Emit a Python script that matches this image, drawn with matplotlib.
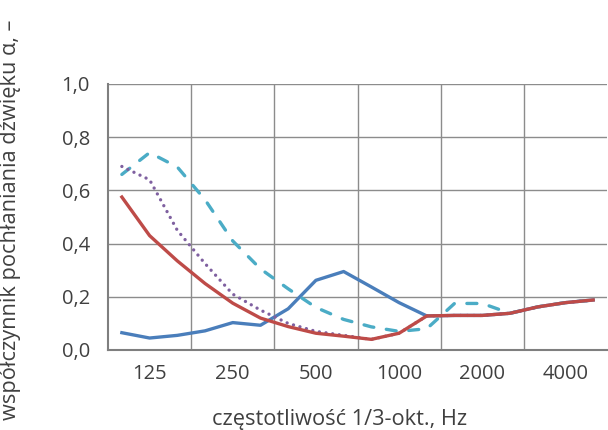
import numpy as np
import matplotlib
matplotlib.use('Agg')
import matplotlib.pyplot as plt

plt.rcParams['font.family'] = ['Open Sans', 'DejaVu Sans']

# pasma tercjowe 100 Hz - 5000 Hz
pasma = [100, 125, 160, 200, 250, 315, 400, 500, 630, 800, 1000, 1250,
         1600, 2000, 2500, 3150, 4000, 5000]
opisy_x = ['125', '250', '500', '1000', '2000', '4000']
opisy_y = ['0,0', '0,2', '0,4', '0,6', '0,8', '1,0']

alfa_niebieska = [0.065, 0.045, 0.055, 0.072, 0.103, 0.093, 0.155, 0.262, 0.295,
                  0.237, 0.178, 0.128, 0.130, 0.130, 0.138, 0.162, 0.178, 0.188]
alfa_turkusowa = [0.660, 0.742, 0.688, 0.565, 0.410, 0.305, 0.230, 0.160, 0.115,
                  0.087, 0.070, 0.080, 0.175, 0.175, 0.138, 0.162, 0.178, 0.188]
alfa_fioletowa = [0.690, 0.640, 0.450, 0.325, 0.210, 0.150, 0.100, 0.070, 0.055,
                  0.040, 0.063, 0.128, 0.130, 0.130, 0.138, 0.162, 0.178, 0.188]
alfa_czerwona = [0.575, 0.430, 0.335, 0.250, 0.176, 0.120, 0.088, 0.063, 0.052,
                 0.040, 0.063, 0.128, 0.130, 0.130, 0.138, 0.162, 0.178, 0.188]

kolor_tekstu = '#404040'

fig = plt.figure(figsize=(6.08, 4.30), dpi=100)
ax = fig.add_axes([108 / 608, 80 / 430, 499 / 608, 266 / 430])

x = np.arange(len(pasma))
ax.plot(x, alfa_niebieska, color='#4A7EBB', lw=2.4, solid_joinstyle='round', zorder=3)
ax.plot(x, alfa_turkusowa, color='#4BACC6', lw=2.4, dashes=(3.0, 3.8),
        dash_capstyle='round', zorder=4)
ax.plot(x, alfa_fioletowa, color='#7F60A0', lw=2.4, dashes=(0.01, 2.0),
        dash_capstyle='round', zorder=4)
ax.plot(x, alfa_czerwona, color='#BE4B48', lw=2.4, solid_joinstyle='round', zorder=5)

ax.set_xlim(-0.5, len(pasma) - 0.5)
ax.set_ylim(0, 1.0)

# linie siatki na granicach oktaw
for g in np.arange(2.5, len(pasma) - 1, 3):
    ax.axvline(g, color='#8C8C8C', lw=1.0, zorder=1)
ax.set_yticks(np.linspace(0, 1, 6))
ax.set_yticklabels(opisy_y)
ax.yaxis.grid(True, color='#8C8C8C', lw=1.0, zorder=1)
ax.set_axisbelow(True)

ax.set_xticks(np.arange(1, len(pasma), 3))
ax.set_xticklabels(opisy_x)
ax.tick_params(axis='both', length=0, labelsize=14.5, colors=kolor_tekstu)
ax.tick_params(axis='x', pad=10)
ax.tick_params(axis='y', pad=13)

for s in ['top', 'right']:
    ax.spines[s].set_visible(False)
ax.spines['left'].set_color('#7F7F7F')
ax.spines['left'].set_linewidth(1.5)
ax.spines['bottom'].set_color('#7F7F7F')
ax.spines['bottom'].set_linewidth(1.5)

fig.text(340 / 608, 1 - 419 / 430, 'częstotliwość 1/3-okt., Hz', ha='center', va='center',
         fontsize=15.7, color=kolor_tekstu)
fig.text(11 / 608, 1 - 220 / 430, 'współczynnik pochłaniania dźwięku α, –', ha='center',
         va='center', rotation=90, fontsize=15.7, color=kolor_tekstu)

fig.savefig('out.png', dpi=100)
